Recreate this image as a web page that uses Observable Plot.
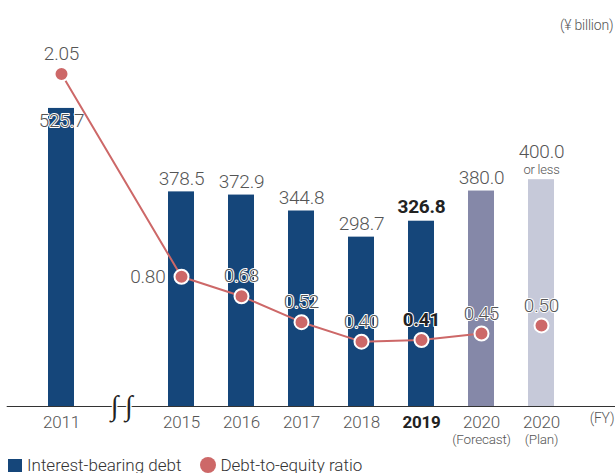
<!DOCTYPE html>
<html><head><meta charset="utf-8">
<script src="https://cdn.jsdelivr.net/npm/d3@7"></script>
<script src="https://cdn.jsdelivr.net/npm/@observablehq/plot@0.6"></script>
<style>
body{margin:0;background:#fff;font-family:Roboto,"Liberation Sans",sans-serif;overflow:hidden;}
#chart svg{display:block;}
#chart svg text{letter-spacing:-0.2px;}
#legend{display:flex;align-items:center;height:16px;padding-top:7px;padding-left:8px;font-size:17px;font-weight:300;color:#333;line-height:16px;}
#legend .sw{display:inline-block;width:14px;height:13px;margin-right:5px;}
#legend .dot{display:inline-block;width:16px;height:16px;border-radius:50%;margin-right:4px;margin-left:19px;}
</style></head><body>
<div id="chart"></div>
<div id="legend"><span class="sw" id="sw1"></span><span>Interest-bearing debt</span><span class="dot" id="sw2"></span><span>Debt-to-equity ratio</span></div>
<script>
// ---- data ----
const years = ["2011","2015","2016","2017","2018","2019","2020F","2020P"];
const tickLabels = ["2011","2015","2016","2017","2018","2019","2020","2020"];
const subLabels = ["","","","","","","(Forecast)","(Plan)"];
const debt = [525.7,378.5,372.9,344.8,298.7,326.8,380.0,400.0];
const debtLabels = ["525.7","378.5","372.9","344.8","298.7","326.8","380.0","400.0"];
const ratio = [2.05,0.80,0.68,0.52,0.40,0.41,0.45,0.50];
const ratioLabels = ["2.05","0.80","0.68","0.52","0.40","0.41","0.45","0.50"];
const status = ["actual","actual","actual","actual","actual","current","forecast","plan"];
const xDomain = ["2011","break","2015","2016","2017","2018","2019","2020F","2020P"];
const unitLabel = "(¥ billion)";
const fyLabel = "(FY)";
const planNote = "or less";
const breakMark = "∫ ∫";

const navy = "#15467a", forecastC = "#8588a8", planC = "#c6c9d9", red = "#cd6868";
const gray = "#555", dark = "#222";
const K = 286; // ratio expressed in debt-axis units (secondary axis)

const data = years.map((y,i)=>({year:y, tick:tickLabels[i], sub:subLabels[i], debt:debt[i],
  debtLabel:debtLabels[i], ratio:ratio[i], ratioLabel:ratioLabels[i], status:status[i]}));

const font = {fontFamily:"Roboto, 'Liberation Sans', sans-serif", fontWeight:300};
const valStyle = {...font, fontSize:19, fill:gray, stroke:"white", strokeWidth:2};

const isNormalBar = d => (d.status==="actual" && d.year !== "2011") || d.status==="forecast";

const chart = Plot.plot({
  width:615, height:450,
  marginLeft:12.7, marginRight:25.2, marginTop:65.8, marginBottom:44,
  x:{type:"band", domain:xDomain, paddingInner:0.57, paddingOuter:0.57, axis:null},
  y:{domain:[0,600], axis:null},
  color:{domain:["actual","current","forecast","plan"], range:[navy,navy,forecastC,planC]},
  marks:[
    Plot.barY(data, {x:"year", y:"debt", fill:"status"}),
    Plot.ruleY([0], {stroke:"#333", strokeWidth:1.2, insetLeft:-6, insetRight:-25.2}),
    Plot.text([breakMark], {x:()=>"break", y:()=>0, text:d=>d, fontSize:28, fill:"#222",
      stroke:"white", strokeWidth:3, fontFamily:"Liberation Serif"}),
    // bar value labels
    Plot.text(data.filter(isNormalBar), {x:"year", y:"debt", text:"debtLabel", dy:-13, ...valStyle}),
    Plot.text(data.filter(d=>d.year==="2011"), {x:"year", y:"debt", text:"debtLabel", dy:12, ...valStyle}),
    Plot.text(data.filter(d=>d.status==="current"), {x:"year", y:"debt", text:"debtLabel", dy:-14,
      ...valStyle, fill:dark, fontWeight:700}),
    Plot.text(data.filter(d=>d.status==="plan"), {x:"year", y:"debt", text:"debtLabel", dy:-28, ...valStyle}),
    Plot.text(data.filter(d=>d.status==="plan"), {x:"year", y:"debt", text:()=>planNote, dy:-10,
      ...valStyle, fontSize:13}),
    // ratio line and dots
    Plot.line(data.filter(d=>d.status!=="plan"), {x:"year", y:d=>d.ratio*K, stroke:red, strokeWidth:2}),
    Plot.dot(data, {x:"year", y:d=>d.ratio*K, r:7, fill:red, stroke:"white", strokeWidth:2}),
    Plot.text(data.filter(d=>d.status!=="current" && d.year!=="2015"), {x:"year", y:d=>d.ratio*K,
      text:"ratioLabel", dy:-20, ...valStyle}),
    Plot.text(data.filter(d=>d.year==="2015"), {x:"year", y:d=>d.ratio*K, text:"ratioLabel",
      dx:-16, textAnchor:"end", ...valStyle}),
    Plot.text(data.filter(d=>d.status==="current"), {x:"year", y:d=>d.ratio*K, text:"ratioLabel",
      dy:-20, ...valStyle, fill:dark, fontWeight:700}),
    // x tick labels
    Plot.text(data.filter(d=>d.status!=="current"), {x:"year", y:()=>0, text:"tick", dy:16,
      ...font, fontSize:17, fill:gray}),
    Plot.text(data.filter(d=>d.status==="current"), {x:"year", y:()=>0, text:"tick", dy:16,
      ...font, fontSize:17, fill:dark, fontWeight:700}),
    Plot.text(data.filter(d=>d.sub), {x:"year", y:()=>0, text:"sub", dy:33,
      ...font, fontSize:13.5, fill:gray}),
    Plot.text([fyLabel], {frameAnchor:"bottom-right", text:d=>d, dx:24, dy:16, textAnchor:"end",
      ...font, fontSize:14, fill:gray}),
    Plot.text([unitLabel], {frameAnchor:"top-right", text:d=>d, dx:23, dy:-46, textAnchor:"end",
      ...font, fontSize:14, fill:gray})
  ]
});
document.getElementById("chart").appendChild(chart);
document.getElementById("sw1").style.background = navy;
document.getElementById("sw2").style.background = red;
</script>
</body></html>
